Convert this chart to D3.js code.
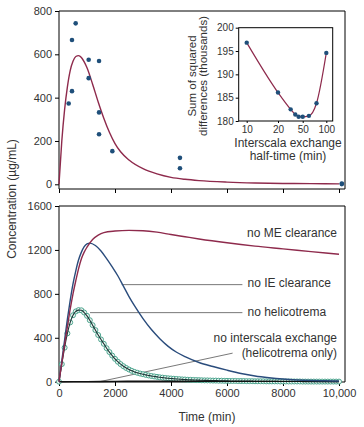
<!DOCTYPE html>
<html>
<head>
<meta charset="utf-8">
<script src="https://cdn.jsdelivr.net/npm/d3@7"></script>
<style>
  body { margin: 0; background: #fff; }
  svg { display: block; font-family: "Liberation Sans", Arial, sans-serif; }
  .axis text { font-size: 11px; fill: #333; }
  .axis line, .axis path { stroke: #000; }
</style>
</head>
<body>
<svg width="364" height="427"></svg>
<script>
'use strict';

// ---- data ----
// top panel: measured points (time min, conc ug/mL)
var obsTime = [346, 464, 464, 596, 1060, 1060, 1430, 1430, 1430, 1905, 4320, 4320, 10100, 10100];
var obsConc = [373, 430, 666, 743, 575, 490, 569, 332, 231, 153, 122, 74, 4, 1];

// top panel: model fit
var fitTime = [0, 100, 200, 300, 400, 500, 600, 700, 800, 900, 1000, 1200, 1400, 1600, 1800, 2000, 2200, 2500, 3000, 3500, 4000, 4500, 5000, 6000, 7000, 8000, 9000, 10000];
var fitConc = [0, 200, 345, 450, 525, 568, 590, 594, 585, 565, 538, 462, 380, 305, 240, 188, 150, 112, 72, 48, 32, 23, 17, 10, 6, 4, 3, 2];

// inset: interscala exchange half-time vs sum of squared differences
var halfTime = [10, 20, 32, 38, 43, 50, 60, 75, 100];
var sumSq = [196.8, 186.1, 182.5, 181.4, 180.9, 180.9, 181.1, 183.8, 194.6];
var insetXTicks = [10, 20, 50, 100];
var insetYTicks = [180, 185, 190, 195, 200];

// bottom panel: simulations
var noMETime = [0, 100, 200, 300, 400, 500, 600, 700, 800, 900, 1000, 1200, 1400, 1600, 2000, 2500, 3000, 3500, 4000, 4500, 5000, 6000, 7000, 8000, 9000, 10000];
var noMEConc = [0, 170, 340, 500, 660, 800, 920, 1030, 1120, 1180, 1225, 1295, 1335, 1358, 1372, 1378, 1375, 1362, 1340, 1320, 1300, 1265, 1235, 1210, 1185, 1160];

var noIETime = [0, 100, 200, 300, 400, 500, 600, 700, 800, 900, 1000, 1100, 1300, 1500, 1700, 1900, 2100, 2300, 2500, 2700, 3000, 3300, 3600, 3900, 4200, 4500, 5000, 5500, 6000, 6500, 7000, 7500, 8000, 8500, 9000, 9500, 10000];
var noIEConc = [0, 190, 380, 570, 740, 890, 1010, 1110, 1180, 1230, 1255, 1262, 1240, 1190, 1120, 1045, 965, 870, 775, 690, 575, 475, 392, 322, 268, 228, 175, 138, 105, 75, 52, 36, 24, 16, 11, 8, 6];

// no helicotrema: one value every 100 min, 0..10000
var noHelicoConc = [0, 160, 310, 440, 540, 605, 640, 652, 650, 630,
  600, 560, 515, 470, 425, 385, 345, 305, 270, 238,
  208, 182, 160, 141, 125, 111, 99, 89, 81, 74,
  68, 62, 57, 52, 48, 44, 40, 37, 34, 31,
  29, 27, 25, 23, 21, 20, 18, 17, 16, 15,
  14, 13, 12, 12, 11, 10, 10, 9, 9, 8,
  8, 7, 7, 7, 6, 6, 6, 5, 5, 5,
  4, 4, 4, 4, 3, 3, 3, 3, 3, 2,
  2, 2, 2, 2, 2, 2, 2, 1, 1, 1,
  1, 1, 1, 1, 1, 1, 1, 1, 1, 1, 1];

// no interscala exchange (helicotrema only): stays close to zero
var noISTime = [0, 1000, 2000, 3000, 4000, 5000, 6000, 8000, 10000];
var noISConc = [0, 1, 3, 4, 4, 4, 3, 3, 2];

var xTicks = [0, 2000, 4000, 6000, 8000, 10000];
var topYTicks = [0, 200, 400, 600, 800];
var botYTicks = [0, 400, 800, 1200, 1600];

var svg = d3.select('svg');

var red = '#8e2a4c';
var blue = '#2a4c7c';
var dotBlue = '#1f4f7a';
var teal = '#3d9c84';
var dark = '#1d3535';
var txt = '#333';

// shared x scale
var x = d3.scaleLinear().domain([0, 10000]).range([59, 339]);
var yTop = d3.scaleLinear().domain([0, 800]).range([184.3, 11]);
var yBot = d3.scaleLinear().domain([0, 1600]).range([381.7, 206]);

function zip(a, b) {
  return a.map(function (v, i) { return [v, b[i]]; });
}

//************************************************
//**Top panel*************************************
//************************************************
var topPanel = svg.append('g');

// frame
topPanel.append('path')
  .attr('d', 'M59,189V11H345V189H59')
  .attr('fill', 'none').attr('stroke', '#000').attr('stroke-width', 1);

topPanel.append('g').attr('class', 'axis')
  .attr('transform', 'translate(59,0)')
  .call(d3.axisLeft(yTop).tickValues(topYTicks).tickFormat(d3.format('d')).tickSize(4).tickPadding(3).tickSizeOuter(0))
  .call(function (g) { g.select('.domain').remove(); });

topPanel.append('g').attr('class', 'axis')
  .attr('transform', 'translate(0,189)')
  .call(d3.axisBottom(x).tickValues(xTicks).tickSize(4).tickFormat('').tickSizeOuter(0))
  .call(function (g) { g.select('.domain').remove(); });

var fitLine = d3.line().curve(d3.curveMonotoneX)
  .x(function (d) { return x(d[0]); })
  .y(function (d) { return yTop(d[1]); });

topPanel.append('path')
  .attr('d', fitLine(zip(fitTime, fitConc)))
  .attr('fill', 'none').attr('stroke', red).attr('stroke-width', 1.4);

topPanel.selectAll('.obs').data(zip(obsTime, obsConc)).enter().append('circle')
  .attr('class', 'obs')
  .attr('cx', function (d) { return x(d[0]); })
  .attr('cy', function (d) { return yTop(d[1]); })
  .attr('r', 2.3)
  .attr('fill', dotBlue);

//Inset
var ix = d3.scaleLog().domain([10, 20, 50, 100]).range([246.7, 278, 302.7, 326.3]);
var iy = d3.scaleLinear().domain([180, 200]).range([121, 27.7]);

var inset = svg.append('g');
inset.append('rect')
  .attr('x', 238.7).attr('y', 27.7).attr('width', 94).attr('height', 93.3)
  .attr('fill', '#fff').attr('stroke', '#000').attr('stroke-width', 1);

inset.append('g').attr('class', 'axis')
  .attr('transform', 'translate(238.7,0)')
  .call(d3.axisLeft(iy).tickValues(insetYTicks).tickFormat(d3.format('d')).tickSize(3).tickPadding(2).tickSizeOuter(0))
  .call(function (g) {
    g.select('.domain').remove();
    g.selectAll('text').style('font-size', '10px');
  });

inset.append('g').attr('class', 'axis')
  .attr('transform', 'translate(0,121)')
  .call(d3.axisBottom(ix).tickValues(insetXTicks).tickFormat(d3.format('d')).tickSize(2).tickPadding(3).tickSizeOuter(0))
  .call(function (g) {
    g.select('.domain').remove();
    g.selectAll('text').style('font-size', '10px');
  });

inset.append('path')
  .attr('d', d3.line().curve(d3.curveMonotoneX)
    .x(function (d) { return ix(d[0]); })
    .y(function (d) { return iy(d[1]); })(zip(halfTime, sumSq)))
  .attr('fill', 'none').attr('stroke', red).attr('stroke-width', 1.2);

inset.selectAll('.pt').data(zip(halfTime, sumSq)).enter().append('circle')
  .attr('cx', function (d) { return ix(d[0]); })
  .attr('cy', function (d) { return iy(d[1]); })
  .attr('r', 2.2)
  .attr('fill', dotBlue);

var insetY = inset.append('text')
  .attr('transform', 'translate(198.5,76) rotate(-90)')
  .attr('text-anchor', 'middle')
  .style('font-size', '11.5px').attr('fill', txt);
insetY.append('tspan').attr('x', 0).attr('dy', '-0.2em').text('Sum of squared');
insetY.append('tspan').attr('x', 0).attr('dy', '0.95em').text('differences (thousands)');

inset.append('text').attr('x', 288).attr('y', 147)
  .attr('text-anchor', 'middle').style('font-size', '12px').attr('fill', txt)
  .text('Interscala exchange');
inset.append('text').attr('x', 288).attr('y', 159.5)
  .attr('text-anchor', 'middle').style('font-size', '12px').attr('fill', txt)
  .text('half-time (min)');

//************************************************
//**Bottom panel**********************************
//************************************************
var bot = svg.append('g');

bot.append('path')
  .attr('d', 'M59,382V206H345V382H59')
  .attr('fill', 'none').attr('stroke', '#000').attr('stroke-width', 1);

bot.append('g').attr('class', 'axis')
  .attr('transform', 'translate(59,0)')
  .call(d3.axisLeft(yBot).tickValues(botYTicks).tickFormat(d3.format('d')).tickSize(4).tickPadding(3).tickSizeOuter(0))
  .call(function (g) { g.select('.domain').remove(); });

bot.append('g').attr('class', 'axis')
  .attr('transform', 'translate(0,382)')
  .call(d3.axisBottom(x).tickValues(xTicks).tickSize(4).tickPadding(3).tickSizeOuter(0)
    .tickFormat(function (d) { return d < 10000 ? d3.format('d')(d) : d3.format(',')(d); }))
  .call(function (g) { g.select('.domain').remove(); });

var lineB = d3.line().curve(d3.curveMonotoneX)
  .x(function (d) { return x(d[0]); })
  .y(function (d) { return yBot(d[1]); });
var leaderLine = d3.line()
  .x(function (d) { return x(d[0]); })
  .y(function (d) { return yBot(d[1]); });

var helicoData = noHelicoConc.map(function (v, i) { return [i * 100, v]; });

// leader lines (annotation), given in data units
var leaders = [
  [[2240, 884], [6550, 884]],
  [[1107, 629], [6550, 629]],
  [[1450, 0], [6200, 260]]
];
bot.selectAll('.leader').data(leaders).enter().append('path')
  .attr('d', leaderLine)
  .attr('fill', 'none').attr('stroke', '#555').attr('stroke-width', 0.8);

bot.selectAll('.hc').data(helicoData).enter().append('circle')
  .attr('cx', function (d) { return x(d[0]); })
  .attr('cy', function (d) { return yBot(d[1]); })
  .attr('r', 2.5)
  .attr('fill', '#eef7f3')
  .attr('stroke', teal).attr('stroke-width', 0.9);

bot.append('path').attr('d', lineB(helicoData))
  .attr('fill', 'none').attr('stroke', dark).attr('stroke-width', 1.1);

bot.append('path').attr('d', lineB(zip(noISTime, noISConc)))
  .attr('fill', 'none').attr('stroke', '#111').attr('stroke-width', 1.4);

bot.append('path').attr('d', lineB(zip(noIETime, noIEConc)))
  .attr('fill', 'none').attr('stroke', blue).attr('stroke-width', 1.4);

bot.append('path').attr('d', lineB(zip(noMETime, noMEConc)))
  .attr('fill', 'none').attr('stroke', red).attr('stroke-width', 1.4);

// curve labels
var labels = [
  { t: 'no ME clearance', x: 337, y: 237, a: 'end' },
  { t: 'no IE clearance', x: 247.5, y: 287, a: 'start' },
  { t: 'no helicotrema', x: 247.5, y: 316, a: 'start' },
  { t: 'no interscala exchange', x: 337, y: 342, a: 'end' },
  { t: '(helicotrema only)', x: 337, y: 357, a: 'end' }
];
bot.selectAll('.lab').data(labels).enter().append('text')
  .attr('x', function (d) { return d.x; })
  .attr('y', function (d) { return d.y; })
  .attr('text-anchor', function (d) { return d.a; })
  .style('font-size', '12px').attr('fill', txt)
  .text(function (d) { return d.t; });

// axis titles
svg.append('text')
  .attr('transform', 'translate(16,199) rotate(-90)')
  .attr('text-anchor', 'middle').style('font-size', '12px').attr('fill', txt)
  .text('Concentration (\u00b5g/mL)');

svg.append('text')
  .attr('x', 207).attr('y', 421)
  .attr('text-anchor', 'middle').style('font-size', '12px').attr('fill', txt)
  .text('Time (min)');
</script>
</body>
</html>
